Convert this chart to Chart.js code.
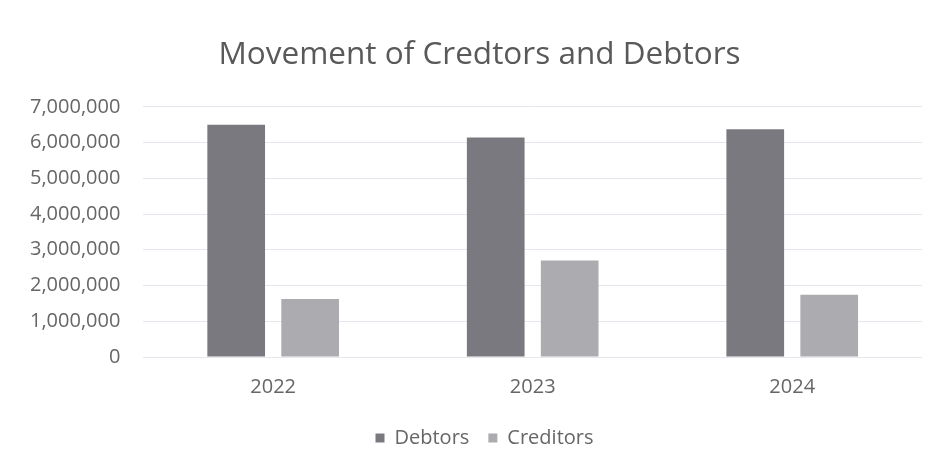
<html>
<head>
    <title>Movement of Credtors and Debtors</title>
    <script src="https://cdn.jsdelivr.net/npm/chart.js"></script>
</head>
<style>
    body {
        margin: 0;
        background-color: #ffffff;
    }
</style>
<body>
    <div style="width: 934px; height: 467px;">
        <canvas id="myChart"></canvas>
    </div>
    <script>
        const years = ['2022', '2023', '2024'];
        const debtors = [6500000, 6140000, 6370000];
        const creditors = [1620000, 2700000, 1740000];
        const yTicks = [0, 1000000, 2000000, 3000000, 4000000, 5000000, 6000000, 7000000];

        const textColor = '#666666';
        Chart.defaults.font.family = "'Open Sans', sans-serif";
        Chart.defaults.color = textColor;

        // title and legend sit centred on the whole picture, not on the padded area
        const centreShift = {
            id: 'centreShift',
            afterLayout(chart) {
                const t = chart.titleBlock;
                if (t) {
                    t.left += 15;
                    t.right += 15;
                }
                const l = chart.legend;
                if (l) {
                    l.left += 20;
                    l.right += 20;
                }
            }
        };

        const data = {
            labels: years,
            datasets: [
                {
                    label: 'Debtors',
                    data: debtors,
                    backgroundColor: '#7a797f',
                    barPercentage: 0.78,
                    categoryPercentage: 0.57
                },
                {
                    label: 'Creditors',
                    data: creditors,
                    backgroundColor: '#acabb0',
                    barPercentage: 0.78,
                    categoryPercentage: 0.57
                }
            ]
        };

        const config = {
            type: 'bar',
            data: data,
            plugins: [centreShift],
            options: {
                responsive: true,
                maintainAspectRatio: false,
                animation: false,
                layout: {
                    padding: { left: 7, right: 12, top: 0, bottom: 9 }
                },
                scales: {
                    x: {
                        grid: { display: false },
                        border: { display: false },
                        ticks: { padding: 10, font: { size: 20 } }
                    },
                    y: {
                        min: 0,
                        max: 7000000,
                        afterBuildTicks: (axis) => {
                            axis.ticks = yTicks.map(v => ({ value: v }));
                        },
                        border: { display: false },
                        grid: { color: '#e6e6ee', drawTicks: false },
                        ticks: {
                            padding: 23,
                            font: { size: 20 },
                            callback: (v) => v.toLocaleString('en-US')
                        }
                    }
                },
                plugins: {
                    title: {
                        display: true,
                        text: 'Movement of Credtors and Debtors',
                        color: '#595959',
                        font: { size: 31.5, weight: 'normal' },
                        padding: { top: 36, bottom: 33 }
                    },
                    legend: {
                        position: 'bottom',
                        labels: {
                            boxWidth: 9,
                            boxHeight: 9,
                            font: { size: 20 },
                            padding: 19
                        }
                    },
                    tooltip: { enabled: false }
                }
            }
        };

        const myChart = new Chart(document.getElementById('myChart'), config);
    </script>
</body>
</html>
